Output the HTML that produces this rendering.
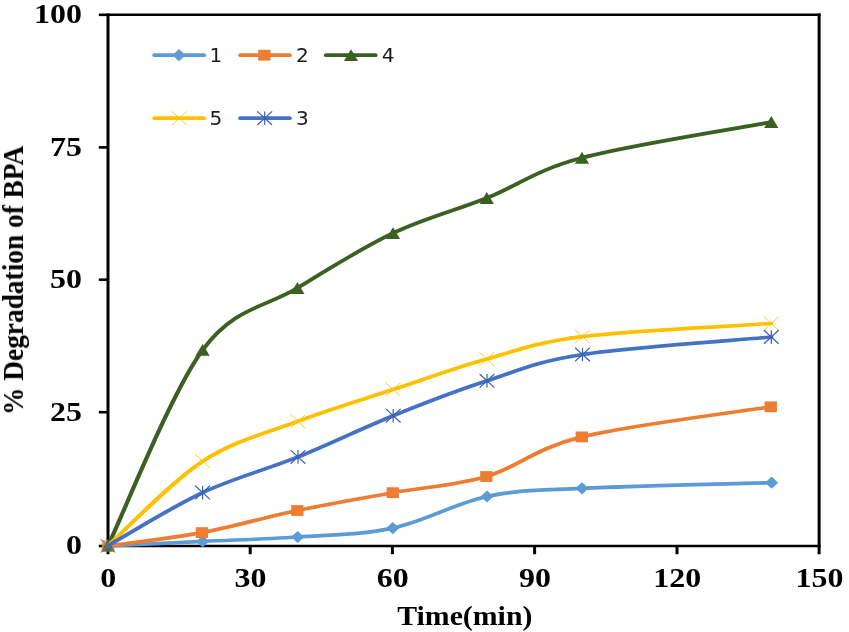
<!DOCTYPE html>
<html lang="en"><head><meta charset="utf-8"><title>% Degradation of BPA vs Time(min)</title>
<style>
html,body{margin:0;padding:0;background:#fff;}
body{width:849px;height:632px;overflow:hidden;}
svg{display:block;}
.tk{font-family:"Liberation Serif","Times New Roman",Times,serif;font-weight:bold;font-size:27.1px;fill:#000;}
.lg{font-family:"DejaVu Sans","Liberation Sans",sans-serif;font-size:20.1px;fill:#1c1c1c;}
</style></head><body>
<svg width="849" height="632" viewBox="0 0 849 632">
<defs><filter id="soft" x="0" y="0" width="849" height="632" filterUnits="userSpaceOnUse"><feGaussianBlur stdDeviation="0.5"/></filter></defs>
<rect width="849" height="632" fill="#fff"/>
<g id="chart" filter="url(#soft)">
<g id="axes" stroke="#000" fill="none" stroke-linecap="butt">
<line x1="108.0" y1="13.5" x2="108.0" y2="547.3" stroke-width="3.0"/>
<line x1="819.1" y1="13.5" x2="819.1" y2="547.3" stroke-width="3.0"/>
<line x1="108.0" y1="14.8" x2="820.6" y2="14.8" stroke-width="2.6"/>
<line x1="108.0" y1="546.0" x2="820.6" y2="546.0" stroke-width="2.6"/>
<line x1="108.0" y1="546.0" x2="108.0" y2="554.2" stroke-width="3.0"/>
<line x1="250.2" y1="546.0" x2="250.2" y2="554.2" stroke-width="3.0"/>
<line x1="392.4" y1="546.0" x2="392.4" y2="554.2" stroke-width="3.0"/>
<line x1="534.6" y1="546.0" x2="534.6" y2="554.2" stroke-width="3.0"/>
<line x1="677.0" y1="546.0" x2="677.0" y2="554.2" stroke-width="3.0"/>
<line x1="819.1" y1="546.0" x2="819.1" y2="554.2" stroke-width="3.0"/>
<line x1="98.8" y1="546.0" x2="108.0" y2="546.0" stroke-width="2.6"/>
<line x1="98.8" y1="412.2" x2="108.0" y2="412.2" stroke-width="2.6"/>
<line x1="98.8" y1="279.7" x2="108.0" y2="279.7" stroke-width="2.6"/>
<line x1="98.8" y1="147.4" x2="108.0" y2="147.4" stroke-width="2.6"/>
<line x1="98.8" y1="14.8" x2="108.0" y2="14.8" stroke-width="2.6"/>
</g>
<g id="series-1">
<path transform="scale(1.15 1)" d="M93.9 545.8 C107.6 545.1 148.7 542.9 176.2 541.4 C203.7 539.9 231.2 539.2 258.8 537.0 C286.3 534.8 314.1 534.9 341.6 528.1 C369.0 521.4 396.1 503.1 423.5 496.5 C450.9 489.9 464.8 490.6 506.1 488.3 C547.3 486.0 643.5 483.6 671.0 482.7" stroke="#5B9BD5" fill="none" stroke-width="3.7" stroke-linecap="round" stroke-linejoin="round"/>
<polygon points="101.5,545.8 108.0,539.7 114.5,545.8 108.0,551.9" fill="#5B9BD5" opacity="0.75"/>
<polygon points="196.1,541.4 202.6,535.3 209.1,541.4 202.6,547.5" fill="#5B9BD5"/>
<polygon points="291.1,537.0 297.6,530.9 304.1,537.0 297.6,543.1" fill="#5B9BD5"/>
<polygon points="386.3,528.1 392.8,522.0 399.3,528.1 392.8,534.2" fill="#5B9BD5"/>
<polygon points="480.5,496.5 487.0,490.4 493.5,496.5 487.0,502.6" fill="#5B9BD5"/>
<polygon points="575.5,488.3 582.0,482.2 588.5,488.3 582.0,494.4" fill="#5B9BD5"/>
<polygon points="765.1,482.7 771.6,476.6 778.1,482.7 771.6,488.8" fill="#5B9BD5"/>
</g>
<g id="series-2">
<path transform="scale(1.15 1)" d="M93.9 545.8 C107.5 543.6 148.2 538.5 175.7 532.6 C203.1 526.7 231.0 517.1 258.6 510.5 C286.2 503.9 314.1 498.4 341.5 492.7 C368.9 487.0 395.5 485.8 422.9 476.5 C450.3 467.2 464.7 448.5 505.9 436.9 C547.1 425.3 642.9 411.8 670.3 406.8" stroke="#ED7D31" fill="none" stroke-width="3.7" stroke-linecap="round" stroke-linejoin="round"/>
<rect x="101.8" y="540.4" width="12.3" height="10.8" fill="#ED7D31" opacity="0.75"/>
<rect x="195.8" y="527.2" width="12.3" height="10.8" fill="#ED7D31"/>
<rect x="291.2" y="505.1" width="12.3" height="10.8" fill="#ED7D31"/>
<rect x="386.6" y="487.3" width="12.3" height="10.8" fill="#ED7D31"/>
<rect x="480.2" y="471.1" width="12.3" height="10.8" fill="#ED7D31"/>
<rect x="575.6" y="431.5" width="12.3" height="10.8" fill="#ED7D31"/>
<rect x="764.6" y="401.4" width="12.3" height="10.8" fill="#ED7D31"/>
</g>
<g id="series-4">
<path transform="scale(1.15 1)" d="M93.9 545.8 C107.6 513.1 148.7 392.9 176.2 349.9 C203.6 306.9 231.0 307.4 258.6 288.0 C286.2 268.6 314.3 248.2 341.7 233.2 C369.2 218.2 395.9 210.6 423.3 198.0 C450.7 185.4 464.9 170.5 506.1 157.8 C547.3 145.2 643.3 128.1 670.7 122.1" stroke="#3B6124" fill="none" stroke-width="3.7" stroke-linecap="round" stroke-linejoin="round"/>
<polygon points="108.0,539.8 115.1,551.7 100.9,551.7" fill="#3B6124" opacity="0.75"/>
<polygon points="202.6,343.9 209.7,355.8 195.5,355.8" fill="#3B6124"/>
<polygon points="297.4,282.0 304.5,293.9 290.3,293.9" fill="#3B6124"/>
<polygon points="393.0,227.2 400.1,239.1 385.9,239.1" fill="#3B6124"/>
<polygon points="486.8,192.0 493.9,203.9 479.7,203.9" fill="#3B6124"/>
<polygon points="582.0,151.8 589.1,163.7 574.9,163.7" fill="#3B6124"/>
<polygon points="771.3,116.1 778.4,128.0 764.2,128.0" fill="#3B6124"/>
</g>
<g id="series-5">
<path transform="scale(1.15 1)" d="M93.9 545.8 C107.6 531.7 148.7 481.9 176.3 461.2 C203.8 440.4 231.5 433.2 259.0 421.3 C286.6 409.4 314.4 400.0 341.7 389.6 C369.1 379.2 395.8 367.8 423.3 359.0 C450.8 350.2 465.3 342.5 506.5 336.6 C547.8 330.7 643.3 325.7 670.7 323.5" stroke="#FFC000" fill="none" stroke-width="3.7" stroke-linecap="round" stroke-linejoin="round"/>
<path d="M100.6 539.0L115.4 552.6M100.6 552.6L115.4 539.0" stroke="#FFC000" stroke-width="1" stroke-opacity="0.85" fill="none" opacity="0.5"/>
<path d="M195.3 454.4L210.1 468.0M195.3 468.0L210.1 454.4" stroke="#FFC000" stroke-width="1" stroke-opacity="0.85" fill="none"/>
<path d="M290.5 414.5L305.3 428.1M290.5 428.1L305.3 414.5" stroke="#FFC000" stroke-width="1" stroke-opacity="0.85" fill="none"/>
<path d="M385.6 382.8L400.4 396.4M385.6 396.4L400.4 382.8" stroke="#FFC000" stroke-width="1" stroke-opacity="0.85" fill="none"/>
<path d="M479.4 352.2L494.2 365.8M479.4 365.8L494.2 352.2" stroke="#FFC000" stroke-width="1" stroke-opacity="0.85" fill="none"/>
<path d="M575.1 329.8L589.9 343.4M575.1 343.4L589.9 329.8" stroke="#FFC000" stroke-width="1" stroke-opacity="0.85" fill="none"/>
<path d="M763.9 316.7L778.7 330.3M763.9 330.3L778.7 316.7" stroke="#FFC000" stroke-width="1" stroke-opacity="0.85" fill="none"/>
</g>
<g id="series-3">
<path transform="scale(1.15 1)" d="M93.9 545.8 C107.6 536.9 148.6 507.4 176.2 492.6 C203.7 477.8 231.5 469.7 259.1 456.9 C286.8 444.1 314.5 428.4 341.9 415.7 C369.3 403.0 396.0 391.0 423.5 380.8 C450.9 370.6 465.3 361.8 506.5 354.5 C547.7 347.2 643.3 339.9 670.7 337.0" stroke="#4472C4" fill="none" stroke-width="3.7" stroke-linecap="round" stroke-linejoin="round"/>
<path d="M100.6 539.0L115.4 552.6M100.6 552.6L115.4 539.0M108.0 539.0L108.0 552.6" stroke="#3A62AE" stroke-width="1.2" fill="none" opacity="0.5"/>
<path d="M195.2 485.8L210.0 499.4M195.2 499.4L210.0 485.8M202.6 485.8L202.6 499.4" stroke="#3A62AE" stroke-width="1.2" fill="none"/>
<path d="M290.6 450.1L305.4 463.7M290.6 463.7L305.4 450.1M298.0 450.1L298.0 463.7" stroke="#3A62AE" stroke-width="1.2" fill="none"/>
<path d="M385.8 408.9L400.6 422.5M385.8 422.5L400.6 408.9M393.2 408.9L393.2 422.5" stroke="#3A62AE" stroke-width="1.2" fill="none"/>
<path d="M479.6 374.0L494.4 387.6M479.6 387.6L494.4 374.0M487.0 374.0L487.0 387.6" stroke="#3A62AE" stroke-width="1.2" fill="none"/>
<path d="M575.1 347.7L589.9 361.3M575.1 361.3L589.9 347.7M582.5 347.7L582.5 361.3" stroke="#3A62AE" stroke-width="1.2" fill="none"/>
<path d="M763.9 330.2L778.7 343.8M763.9 343.8L778.7 330.2M771.3 330.2L771.3 343.8" stroke="#3A62AE" stroke-width="1.2" fill="none"/>
</g>
<g id="legend">
<line x1="154.2" y1="55.2" x2="204.2" y2="55.2" stroke="#5B9BD5" stroke-width="3.7" stroke-linecap="round"/>
<polygon points="172.5,55.2 179.0,49.1 185.5,55.2 179.0,61.3" fill="#5B9BD5"/>
<text class="lg" x="209.6" y="61.7">1</text>
<line x1="240.1" y1="55.2" x2="289.9" y2="55.2" stroke="#ED7D31" stroke-width="3.7" stroke-linecap="round"/>
<rect x="258.2" y="49.8" width="12.3" height="10.8" fill="#ED7D31"/>
<text class="lg" x="296.1" y="61.7">2</text>
<line x1="325.8" y1="55.2" x2="375.7" y2="55.2" stroke="#3B6124" stroke-width="3.7" stroke-linecap="round"/>
<polygon points="351.0,49.2 358.1,61.1 343.9,61.1" fill="#3B6124"/>
<text class="lg" x="381.8" y="61.7">4</text>
<line x1="154.2" y1="118.2" x2="204.2" y2="118.2" stroke="#FFC000" stroke-width="3.7" stroke-linecap="round"/>
<path d="M172.0 111.4L186.8 125.0M172.0 125.0L186.8 111.4" stroke="#FFC000" stroke-width="1" stroke-opacity="0.85" fill="none"/>
<text class="lg" x="209.6" y="124.7">5</text>
<line x1="240.1" y1="118.2" x2="289.9" y2="118.2" stroke="#4472C4" stroke-width="3.7" stroke-linecap="round"/>
<path d="M257.3 111.4L272.1 125.0M257.3 125.0L272.1 111.4M264.7 111.4L264.7 125.0" stroke="#3A62AE" stroke-width="1.2" fill="none"/>
<text class="lg" x="296.1" y="124.7">3</text>
</g>
<g id="xticks">
<text class="tk" text-anchor="middle" transform="translate(108.3 586.8) scale(1.178 1.000)">0</text>
<text class="tk" text-anchor="middle" transform="translate(250.5 586.8) scale(1.178 1.000)">30</text>
<text class="tk" text-anchor="middle" transform="translate(392.7 586.8) scale(1.178 1.000)">60</text>
<text class="tk" text-anchor="middle" transform="translate(534.9 586.8) scale(1.178 1.000)">90</text>
<text class="tk" text-anchor="middle" transform="translate(677.3 586.8) scale(1.178 1.000)">120</text>
<text class="tk" text-anchor="middle" transform="translate(819.4 586.8) scale(1.178 1.000)">150</text>
</g>
<g id="yticks">
<text class="tk" text-anchor="end" transform="translate(81.9 554.3) scale(1.178 1.000)">0</text>
<text class="tk" text-anchor="end" transform="translate(81.9 420.5) scale(1.178 1.000)">25</text>
<text class="tk" text-anchor="end" transform="translate(81.9 288.0) scale(1.178 1.000)">50</text>
<text class="tk" text-anchor="end" transform="translate(81.9 155.7) scale(1.178 1.000)">75</text>
<text class="tk" text-anchor="end" transform="translate(81.9 23.1) scale(1.178 1.000)">100</text>
</g>
<text class="tk" text-anchor="middle" transform="translate(464.8 625.0) scale(1.100 0.985)">Time(min)</text>
<text class="tk" text-anchor="middle" transform="translate(23 280.3) rotate(-90) scale(1.010 1.115)">% Degradation of BPA</text>
</g>
</svg></body></html>
